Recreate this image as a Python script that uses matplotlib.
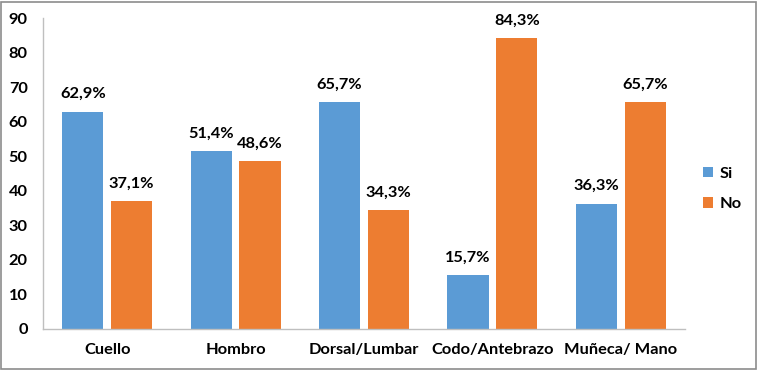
import matplotlib.pyplot as plt
import matplotlib.patches as mpatches
import numpy as np

categories = ['Cuello', 'Hombro', 'Dorsal/Lumbar', 'Codo/Antebrazo', 'Muñeca/ Mano']
si_values = [62.9, 51.4, 65.7, 15.7, 36.3]
no_values = [37.1, 48.6, 34.3, 84.3, 65.7]
y_ticks = [0, 10, 20, 30, 40, 50, 60, 70, 80, 90]

blue = '#5B9BD5'
orange = '#ED7D31'
plt.rcParams['font.family'] = ['Lato', 'DejaVu Sans']
fs = 11.8

fig = plt.figure(figsize=(7.57, 3.71), dpi=100)
ax = fig.add_axes([43 / 757, 42 / 371, 642 / 757, 311 / 371])

x = np.arange(len(categories))
w = 0.32
off = 0.19
b1 = ax.bar(x - off, si_values, w, color=blue, label='Si')
b2 = ax.bar(x + off, no_values, w, color=orange, label='No')

for bars, vals in ((b1, si_values), (b2, no_values)):
    for rect, v in zip(bars, vals):
        ax.text(rect.get_x() + rect.get_width() / 2, v + 3.0,
                ('%.1f%%' % v).replace('.', ','),
                ha='center', va='bottom', fontsize=fs, fontweight='bold')

ax.set_xlim(-0.5, len(categories) - 0.5)
ax.set_ylim(0, 90)
ax.set_yticks(y_ticks)
ax.set_xticks(x)
ax.set_xticklabels(categories, fontsize=fs, fontweight='bold')
for lbl in ax.get_yticklabels():
    lbl.set_fontsize(fs)
    lbl.set_fontweight('bold')
ax.tick_params(axis='both', length=0)
ax.tick_params(axis='y', pad=11)
ax.tick_params(axis='x', pad=10)
for s in ('top', 'right'):
    ax.spines[s].set_visible(False)
for s in ('left', 'bottom'):
    ax.spines[s].set_color('#BFBFBF')
    ax.spines[s].set_linewidth(1)

ax.legend(loc='center left', bbox_to_anchor=(1.005, 0.45), frameon=False,
          prop={'size': fs, 'weight': 'bold'}, handlelength=0.6, handleheight=0.6,
          handletextpad=0.4, labelspacing=1.0)

fig.patches.append(mpatches.Rectangle((0.5 / 757, 2.5 / 371), 755 / 757, 367 / 371,
                                      transform=fig.transFigure, fill=False,
                                      edgecolor='#8C8C8C', linewidth=1.2))

fig.savefig('out.png', dpi=100)
